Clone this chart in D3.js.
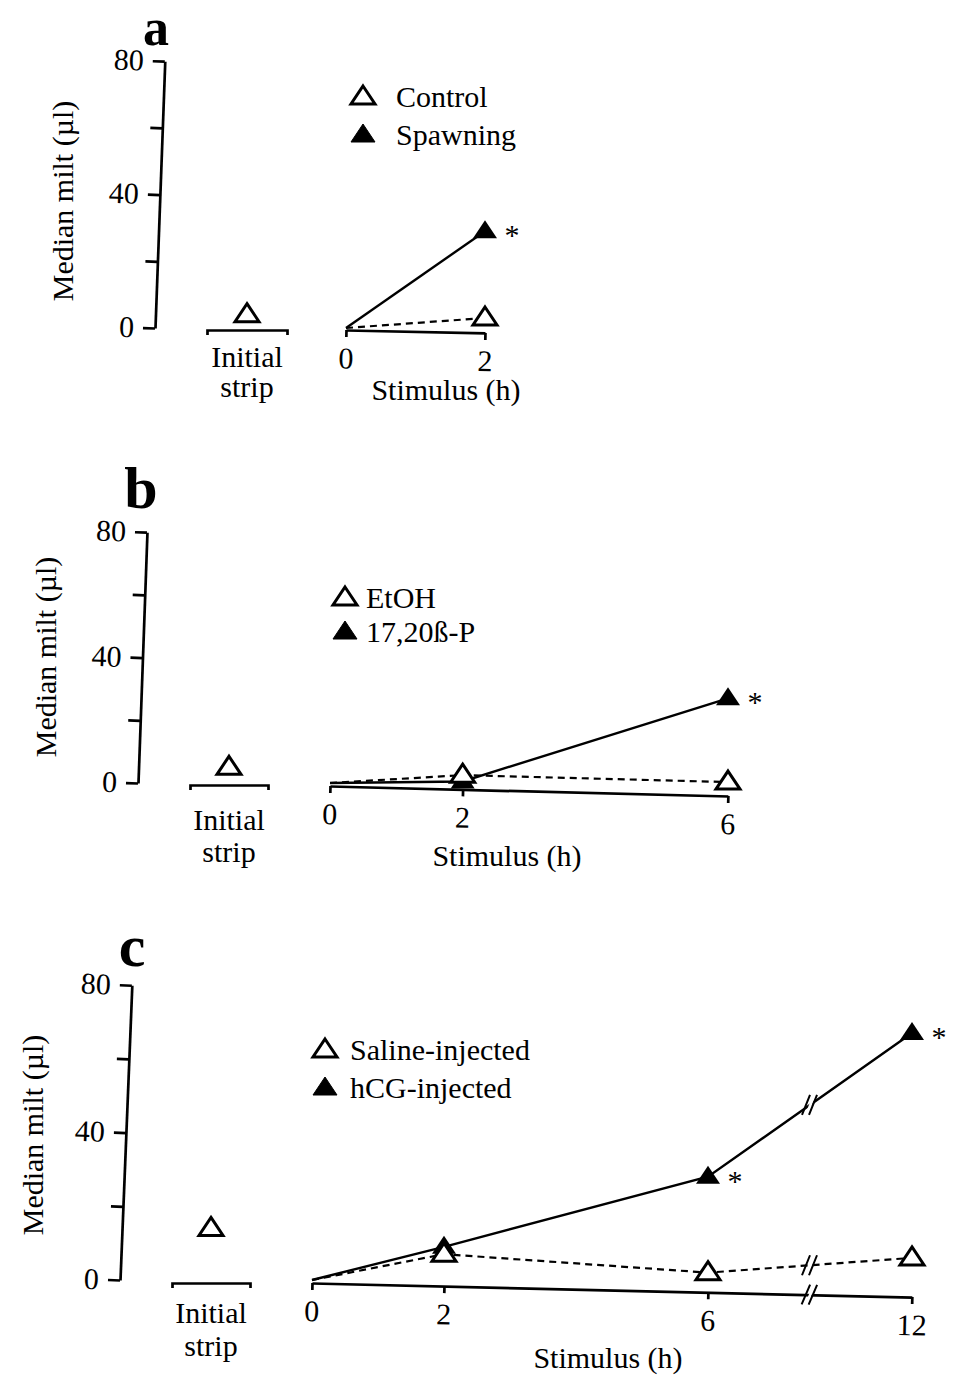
<!DOCTYPE html>
<html>
<head>
<meta charset="utf-8">
<script src="https://cdn.jsdelivr.net/npm/d3@7"></script>
<style>
  body { margin: 0; background: #fff; }
  svg { display: block; font-family: "Liberation Serif", "Times New Roman", serif; }
  .axis path, .axis line { stroke: #000; stroke-width: 2.7; }
  .axis text { font-size: 30px; fill: #000; font-family: "Liberation Serif", "Times New Roman", serif; }
  .lbl { font-size: 30px; fill: #000; }
</style>
</head>
<body>
<svg id="fig" width="954" height="1380"></svg>
<script>
// Data
var yTicks = [0, 20, 40, 60, 80],
    yLabels = [0, 40, 80];

// panel a
var timesA = [0, 2],
    controlA = [0, 3],
    spawningA = [0, 29],
    initialA = 4,
    starsA = [2],
    legendA = ["Control", "Spawning"];

// panel b
var timesB = [0, 2, 6],
    etohB = [0, 2.5, 0.3],
    progB = [0, 0.5, 27],
    initialB = 5,
    starsB = [6],
    legendB = ["EtOH", "17,20ß-P"];

// panel c
var timesC = [0, 2, 6, 12],
    salineC = [0, 7, 2, 6],
    hcgC = [0, 9, 28, 67],
    initialC = 14,
    starsC = [6, 12],
    legendC = ["Saline-injected", "hCG-injected"];

var svg = d3.select("#fig");
var tri = "M0,-11L12,7L-12,7Z";

// layout of each panel (scan is slightly skewed, axes get a small tilt)
var panels = [
  {letter: "a", letterXY: [156, 45], letterSize: 52,
   yx: 155, y0: 328, y80: 61, yRot: 2.1, yTitle: [62, 201],
   strip: [207, 287], stripY: 330, initial: initialA, initLbl: [247, 367, 397],
   times: timesA, xDomain: [0, 2], xRange: [346, 485], xAxisY: 330, xRot: 1.2,
   stimTitle: [446, 400],
   open: controlA, filled: spawningA, stars: starsA,
   legend: legendA, legX: 363, legY: [97, 135], legTextX: 396},
  {letter: "b", letterXY: [141, 508], letterSize: 60,
   yx: 138, y0: 783, y80: 532, yRot: 2.05, yTitle: [45, 657],
   strip: [190, 268], stripY: 785, initial: initialB, initLbl: [229, 830, 862],
   times: timesB, xDomain: [0, 6], xRange: [330, 728], xAxisY: 786, xRot: 1.44,
   stimTitle: [507, 866],
   open: etohB, filled: progB, stars: starsB,
   legend: legendB, legX: 345, legY: [598, 632], legTextX: 366},
  {letter: "c", letterXY: [132, 966], letterSize: 60,
   yx: 120, y0: 1280, y80: 985, yRot: 2.3, yTitle: [32, 1135],
   strip: [172, 250], stripY: 1283, initial: initialC, initLbl: [211, 1323, 1356],
   times: timesC, xDomain: [0, 6, 12], xRange: [312, 708, 912], xAxisY: 1283, xRot: 1.34,
   stimTitle: [608, 1368], brk: 9,
   open: salineC, filled: hcgC, stars: starsC,
   legend: legendC, legX: 325, legY: [1050, 1088], legTextX: 350}
];

panels.forEach(drawPanel);

// "//" axis-break symbol with a small white gap
function breakMark(sel, bx, by) {
  var b = sel.append("g").attr("transform", "translate(" + bx + "," + by + ")");
  b.append("path").attr("d", "M-5,10L3,-10L6,-10L-2,10Z")
    .style("fill", "#fff").style("stroke", "none");
  b.append("path").attr("d", "M-8,10L0,-10M-1,10L7,-10")
    .style("fill", "none").style("stroke", "#000").style("stroke-width", "2px");
}

function drawPanel(p) {
  var g = svg.append("g");
  var y = d3.scaleLinear().domain([0, 80]).range([p.y0, p.y80]);
  var x = d3.scaleLinear().domain(p.xDomain).range(p.xRange);

  // panel letter
  g.append("text").attr("x", p.letterXY[0]).attr("y", p.letterXY[1])
    .attr("text-anchor", "middle").style("font-size", p.letterSize + "px").style("font-weight", "bold")
    .text(p.letter);

  // y axis
  var ya = g.append("g").attr("class", "axis")
    .attr("transform", "translate(" + p.yx + ",0) rotate(" + p.yRot + ",0," + p.y0 + ")")
    .call(d3.axisLeft(y).tickValues(yTicks).tickSize(12).tickSizeOuter(0).tickPadding(9)
      .tickFormat(function(d) { return yLabels.indexOf(d) >= 0 ? d : ""; }));
  ya.attr("font-family", null).attr("font-size", null);

  g.append("text").attr("class", "lbl")
    .attr("transform", "translate(" + p.yTitle[0] + "," + p.yTitle[1] + ") rotate(-90)")
    .attr("text-anchor", "middle").attr("dy", "0.35em")
    .text("Median milt (µl)");

  // initial strip
  var xs = d3.scaleLinear().range(p.strip);
  g.append("g").attr("class", "axis")
    .attr("transform", "translate(0," + p.stripY + ")")
    .call(d3.axisBottom(xs).tickValues([]).tickSizeOuter(5));
  var sx = (p.strip[0] + p.strip[1]) / 2;
  g.append("path").attr("d", tri)
    .attr("transform", "translate(" + sx + "," + y(p.initial) + ")")
    .attr("fill", "#fff").attr("stroke", "#000").attr("stroke-width", 3);
  g.append("text").attr("class", "lbl").attr("x", p.initLbl[0]).attr("y", p.initLbl[1])
    .attr("text-anchor", "middle").text("Initial");
  g.append("text").attr("class", "lbl").attr("x", p.initLbl[0]).attr("y", p.initLbl[2])
    .attr("text-anchor", "middle").text("strip");

  // stimulus axis
  var xa = g.append("g").attr("class", "axis")
    .attr("transform", "translate(0," + p.xAxisY + ") rotate(" + p.xRot + "," + p.xRange[0] + ",0)")
    .call(d3.axisBottom(x).tickValues(p.times).tickSize(7).tickSizeOuter(0).tickPadding(10)
      .tickFormat(d3.format("d")));
  xa.attr("font-family", null).attr("font-size", null);
  if (p.brk) breakMark(xa, x(p.brk), 0);

  g.append("text").attr("class", "lbl").attr("x", p.stimTitle[0]).attr("y", p.stimTitle[1])
    .attr("text-anchor", "middle").text("Stimulus (h)");

  // series lines
  var line = d3.line()
    .x(function(d, i) { return x(p.times[i]); })
    .y(function(d) { return y(d); });

  g.append("path").datum(p.open).attr("d", line)
    .attr("fill", "none").attr("stroke", "#000").attr("stroke-width", 2.2)
    .attr("stroke-dasharray", "7,5");
  g.append("path").datum(p.filled).attr("d", line)
    .attr("fill", "none").attr("stroke", "#000").attr("stroke-width", 2.4);

  if (p.brk) {
    [p.open, p.filled].forEach(function(s) {
      var v = d3.scaleLinear().domain(p.times).range(s)(p.brk);
      breakMark(g, x(p.brk), y(v));
    });
  }

  // markers (skip time 0, lines start on the axis)
  g.selectAll(null).data(p.filled.slice(1)).enter().append("path")
    .attr("d", tri)
    .attr("transform", function(d, i) { return "translate(" + x(p.times[i + 1]) + "," + y(d) + ")"; })
    .attr("fill", "#000");
  g.selectAll(null).data(p.open.slice(1)).enter().append("path")
    .attr("d", tri)
    .attr("transform", function(d, i) { return "translate(" + x(p.times[i + 1]) + "," + y(d) + ")"; })
    .attr("fill", "#fff").attr("stroke", "#000").attr("stroke-width", 3);

  // significance
  g.selectAll(null).data(p.stars).enter().append("text")
    .attr("x", function(t) { return x(t) + 27; })
    .attr("y", function(t) { return y(p.filled[p.times.indexOf(t)]) + 14; })
    .attr("text-anchor", "middle").style("font-size", "30px")
    .text("*");

  // legend
  p.legend.forEach(function(name, i) {
    g.append("path").attr("d", tri)
      .attr("transform", "translate(" + p.legX + "," + p.legY[i] + ")")
      .attr("fill", i === 0 ? "#fff" : "#000")
      .attr("stroke", "#000").attr("stroke-width", i === 0 ? 3 : 1);
    g.append("text").attr("class", "lbl")
      .attr("x", p.legTextX).attr("y", p.legY[i] + 10)
      .text(name);
  });
}
</script>
</body>
</html>
